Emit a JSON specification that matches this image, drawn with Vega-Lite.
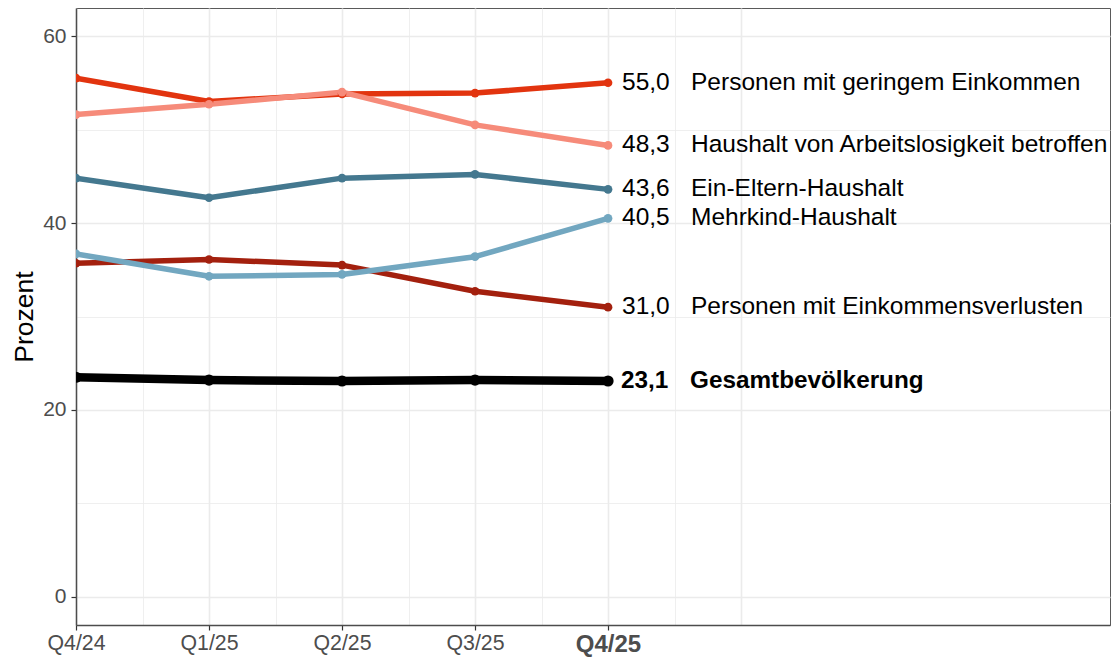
{
  "$schema": "https://vega.github.io/schema/vega-lite/v6.json",
  "width": 1034,
  "height": 617,
  "autosize": {"type": "none"},
  "padding": {"left": 76, "top": 8, "right": 3, "bottom": 32},
  "background": "white",
  "config": {
    "font": "Liberation Sans",
    "locale": {"number": {"decimal": ",", "thousands": ".", "grouping": [3], "currency": ["", " €"]}},
    "view": {"stroke": "#5A5A5A", "strokeWidth": 1}
  },
  "data": {
    "values": [
      {"gruppe": "Personen mit geringem Einkommen", "q": 0, "wert": 55.5},
      {"gruppe": "Personen mit geringem Einkommen", "q": 1, "wert": 53.0},
      {"gruppe": "Personen mit geringem Einkommen", "q": 2, "wert": 53.8},
      {"gruppe": "Personen mit geringem Einkommen", "q": 3, "wert": 53.9},
      {"gruppe": "Personen mit geringem Einkommen", "q": 4, "wert": 55.0},
      {"gruppe": "Personen mit Einkommensverlusten", "q": 0, "wert": 35.7},
      {"gruppe": "Personen mit Einkommensverlusten", "q": 1, "wert": 36.1},
      {"gruppe": "Personen mit Einkommensverlusten", "q": 2, "wert": 35.5},
      {"gruppe": "Personen mit Einkommensverlusten", "q": 3, "wert": 32.7},
      {"gruppe": "Personen mit Einkommensverlusten", "q": 4, "wert": 31.0},
      {"gruppe": "Ein-Eltern-Haushalt", "q": 0, "wert": 44.8},
      {"gruppe": "Ein-Eltern-Haushalt", "q": 1, "wert": 42.7},
      {"gruppe": "Ein-Eltern-Haushalt", "q": 2, "wert": 44.8},
      {"gruppe": "Ein-Eltern-Haushalt", "q": 3, "wert": 45.2},
      {"gruppe": "Ein-Eltern-Haushalt", "q": 4, "wert": 43.6},
      {"gruppe": "Haushalt von Arbeitslosigkeit betroffen", "q": 0, "wert": 51.6},
      {"gruppe": "Haushalt von Arbeitslosigkeit betroffen", "q": 1, "wert": 52.7},
      {"gruppe": "Haushalt von Arbeitslosigkeit betroffen", "q": 2, "wert": 54.0},
      {"gruppe": "Haushalt von Arbeitslosigkeit betroffen", "q": 3, "wert": 50.5},
      {"gruppe": "Haushalt von Arbeitslosigkeit betroffen", "q": 4, "wert": 48.3},
      {"gruppe": "Mehrkind-Haushalt", "q": 0, "wert": 36.7},
      {"gruppe": "Mehrkind-Haushalt", "q": 1, "wert": 34.3},
      {"gruppe": "Mehrkind-Haushalt", "q": 2, "wert": 34.5},
      {"gruppe": "Mehrkind-Haushalt", "q": 3, "wert": 36.4},
      {"gruppe": "Mehrkind-Haushalt", "q": 4, "wert": 40.5},
      {"gruppe": "Gesamtbevölkerung", "q": 0, "wert": 23.5},
      {"gruppe": "Gesamtbevölkerung", "q": 1, "wert": 23.2},
      {"gruppe": "Gesamtbevölkerung", "q": 2, "wert": 23.1},
      {"gruppe": "Gesamtbevölkerung", "q": 3, "wert": 23.2},
      {"gruppe": "Gesamtbevölkerung", "q": 4, "wert": 23.1}
    ]
  },
  "encoding": {
    "x": {
      "field": "q", "type": "quantitative",
      "scale": {"domain": [0, 7.774], "nice": false, "zero": false},
      "axis": {
        "title": null,
        "values": [0, 0.5, 1, 1.5, 2, 2.5, 3, 3.5, 4, 4.5, 5],
        "labelExpr": "datum.value == 0 ? 'Q4/24' : datum.value == 1 ? 'Q1/25' : datum.value == 2 ? 'Q2/25' : datum.value == 3 ? 'Q3/25' : datum.value == 4 ? 'Q4/25' : ''",
        "labelFlush": false,
        "labelOverlap": false,
        "labelBound": false,
        "labelFont": "Liberation Sans",
        "labelFontSize": {"condition": {"test": "datum.value == 4", "value": 24}, "value": 21.3},
        "labelFontWeight": {"condition": {"test": "datum.value == 4", "value": "bold"}, "value": "normal"},
        "labelColor": "#4D4D4D",
        "labelPadding": 2,
        "grid": true,
        "gridColor": "#EBEBEB",
        "gridWidth": {"condition": {"test": "datum.value % 1 != 0", "value": 0.8}, "value": 1.6},
        "domain": true,
        "domainColor": "#4D4D4D",
        "domainWidth": 1.5,
        "ticks": true,
        "tickColor": {"condition": {"test": "datum.value % 1 != 0 || datum.value == 5", "value": "transparent"}, "value": "#333333"},
        "tickWidth": 1.2,
        "tickSize": 5
      }
    },
    "y": {
      "field": "wert", "type": "quantitative",
      "scale": {"domain": [-3, 63], "nice": false, "zero": false},
      "axis": {
        "title": "Prozent",
        "titleFont": "Liberation Sans",
        "titleFontSize": 26.5,
        "titleFontWeight": "normal",
        "titleColor": "#000000",
        "titleBaseline": "alphabetic",
        "titleX": -44,
        "values": [0, 10, 20, 30, 40, 50, 60],
        "labelExpr": "datum.value % 20 == 0 ? datum.label : ''",
        "labelFont": "Liberation Sans",
        "labelFontSize": 21,
        "labelColor": "#4D4D4D",
        "labelPadding": 5,
        "labelOverlap": false,
        "labelFlush": false,
        "grid": true,
        "gridColor": "#EBEBEB",
        "gridWidth": {"condition": {"test": "datum.value % 20 != 0", "value": 0.8}, "value": 1.6},
        "domain": true,
        "domainColor": "#4D4D4D",
        "domainWidth": 1.5,
        "ticks": true,
        "tickColor": {"condition": {"test": "datum.value % 20 != 0", "value": "transparent"}, "value": "#333333"},
        "tickWidth": 1.2,
        "tickSize": 5
      }
    }
  },
  "layer": [
    {
      "transform": [{"filter": "datum.gruppe != 'Gesamtbevölkerung'"}],
      "mark": {"type": "line", "clip": true, "strokeWidth": 5.5, "strokeJoin": "round"},
      "encoding": {
        "color": {
          "field": "gruppe", "type": "nominal", "legend": null,
          "scale": {
            "domain": ["Personen mit geringem Einkommen", "Personen mit Einkommensverlusten", "Ein-Eltern-Haushalt", "Haushalt von Arbeitslosigkeit betroffen", "Mehrkind-Haushalt", "Gesamtbevölkerung"],
            "range": ["#E2340F", "#A3200E", "#44788F", "#F68B7A", "#72A7C0", "#000000"]
          }
        }
      }
    },
    {
      "transform": [{"filter": "datum.gruppe != 'Gesamtbevölkerung'"}],
      "mark": {"type": "point", "filled": true, "opacity": 1, "clip": true, "shape": "circle", "size": 75},
      "encoding": {
        "color": {"field": "gruppe", "type": "nominal", "legend": null}
      }
    },
    {
      "transform": [{"filter": "datum.gruppe == 'Gesamtbevölkerung'"}],
      "mark": {"type": "line", "clip": true, "strokeWidth": 8.5, "strokeJoin": "round", "color": "#000000"},
      "encoding": {}
    },
    {
      "transform": [{"filter": "datum.gruppe == 'Gesamtbevölkerung'"}],
      "mark": {"type": "point", "filled": true, "opacity": 1, "clip": true, "shape": "circle", "size": 125, "color": "#000000"},
      "encoding": {}
    },
    {
      "transform": [{"filter": "datum.q == 4 && datum.gruppe != 'Gesamtbevölkerung'"}],
      "mark": {"type": "text", "align": "left", "baseline": "middle", "dx": 14, "fontSize": 24.5, "font": "Liberation Sans", "color": "#000000"},
      "encoding": {
        "text": {"field": "wert", "type": "quantitative", "format": ".1f"}
      }
    },
    {
      "transform": [{"filter": "datum.q == 4 && datum.gruppe != 'Gesamtbevölkerung'"}],
      "mark": {"type": "text", "align": "left", "baseline": "middle", "dx": 83, "fontSize": 24.5, "font": "Liberation Sans", "color": "#000000"},
      "encoding": {
        "text": {"field": "gruppe", "type": "nominal"}
      }
    },
    {
      "transform": [{"filter": "datum.q == 4 && datum.gruppe == 'Gesamtbevölkerung'"}],
      "mark": {"type": "text", "align": "left", "baseline": "middle", "dx": 13, "fontSize": 24.3, "fontWeight": "bold", "font": "Liberation Sans", "color": "#000000"},
      "encoding": {
        "text": {"field": "wert", "type": "quantitative", "format": ".1f"}
      }
    },
    {
      "transform": [{"filter": "datum.q == 4 && datum.gruppe == 'Gesamtbevölkerung'"}],
      "mark": {"type": "text", "align": "left", "baseline": "middle", "dx": 82, "fontSize": 24.3, "fontWeight": "bold", "font": "Liberation Sans", "color": "#000000"},
      "encoding": {
        "text": {"field": "gruppe", "type": "nominal"}
      }
    }
  ]
}
